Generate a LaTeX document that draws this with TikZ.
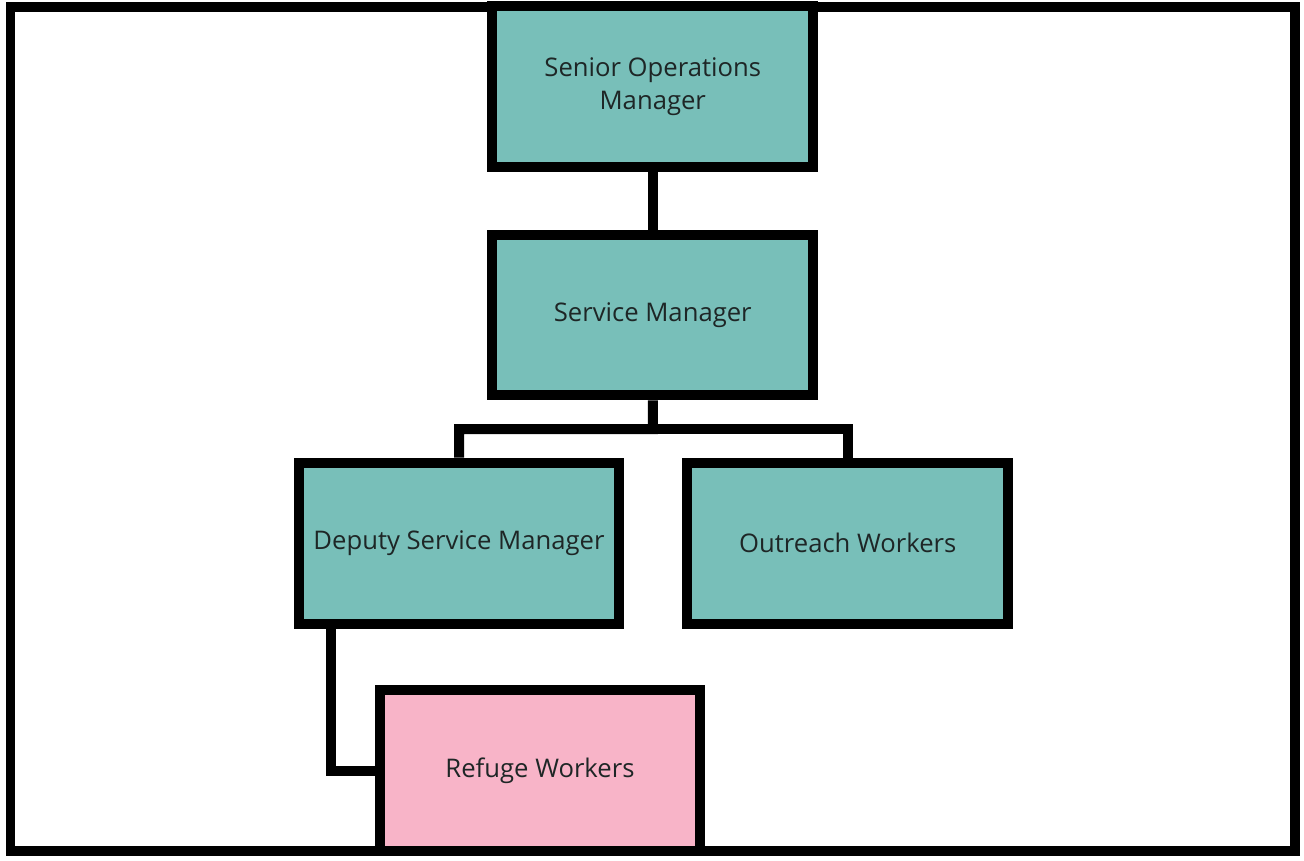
\documentclass[tikz,border=0pt]{standalone}
\usepackage{fontspec}
\setmainfont{Open Sans}
\usetikzlibrary{positioning,calc}
\definecolor{tealbox}{RGB}{120,191,185}
\definecolor{pinkbox}{RGB}{248,180,200}
\definecolor{boxtext}{RGB}{30,38,38}
\tikzset{
  orgbox/.style={draw=black, line width=0.2cm, fill=tealbox,
    minimum width=6.42cm, minimum height=3.22cm, inner sep=0pt,
    align=center, text=boxtext, font=\fontsize{14.6}{18.8}\selectfont},
  link/.style={line width=0.2cm}
}

\begin{document}
\begin{tikzpicture}[x=0.02cm, y=-0.02cm]
	  % Fix the page size
	  \useasboundingbox (0,0) rectangle (1304,860);
	  % Draw the outer frame
	  \draw [line width=0.2cm] (10.5,6.5) rectangle (1295,851);
	  % Draw the boxes
	  \node [orgbox] (senior) at (652.75,86.75) {Senior Operations\\Manager};
	  \node [orgbox] (service) at (652.75,315) {Service Manager};
	  \node [orgbox] (deputy) at (459,543) {Deputy Service Manager};
	  \node [orgbox] (outreach) at (847.75,543) {Outreach Workers};
	  \node [orgbox, fill=pinkbox] (refuge) at (540,770.5) {Refuge Workers};
	  % Draw the links between the boxes
	  \draw [link] (senior.south) -- (service.north);
	  \coordinate (split) at ($(service.south)!0.5!(service.south |- deputy.north)$);
	  \draw [link] (service.south) -- (split) -| (deputy.north);
	  \draw [link] (split) -| (outreach.north);
	  \draw [link] (deputy.south west) ++(37.5,0) |- (refuge.west);
      \end{tikzpicture}
\end{document}
